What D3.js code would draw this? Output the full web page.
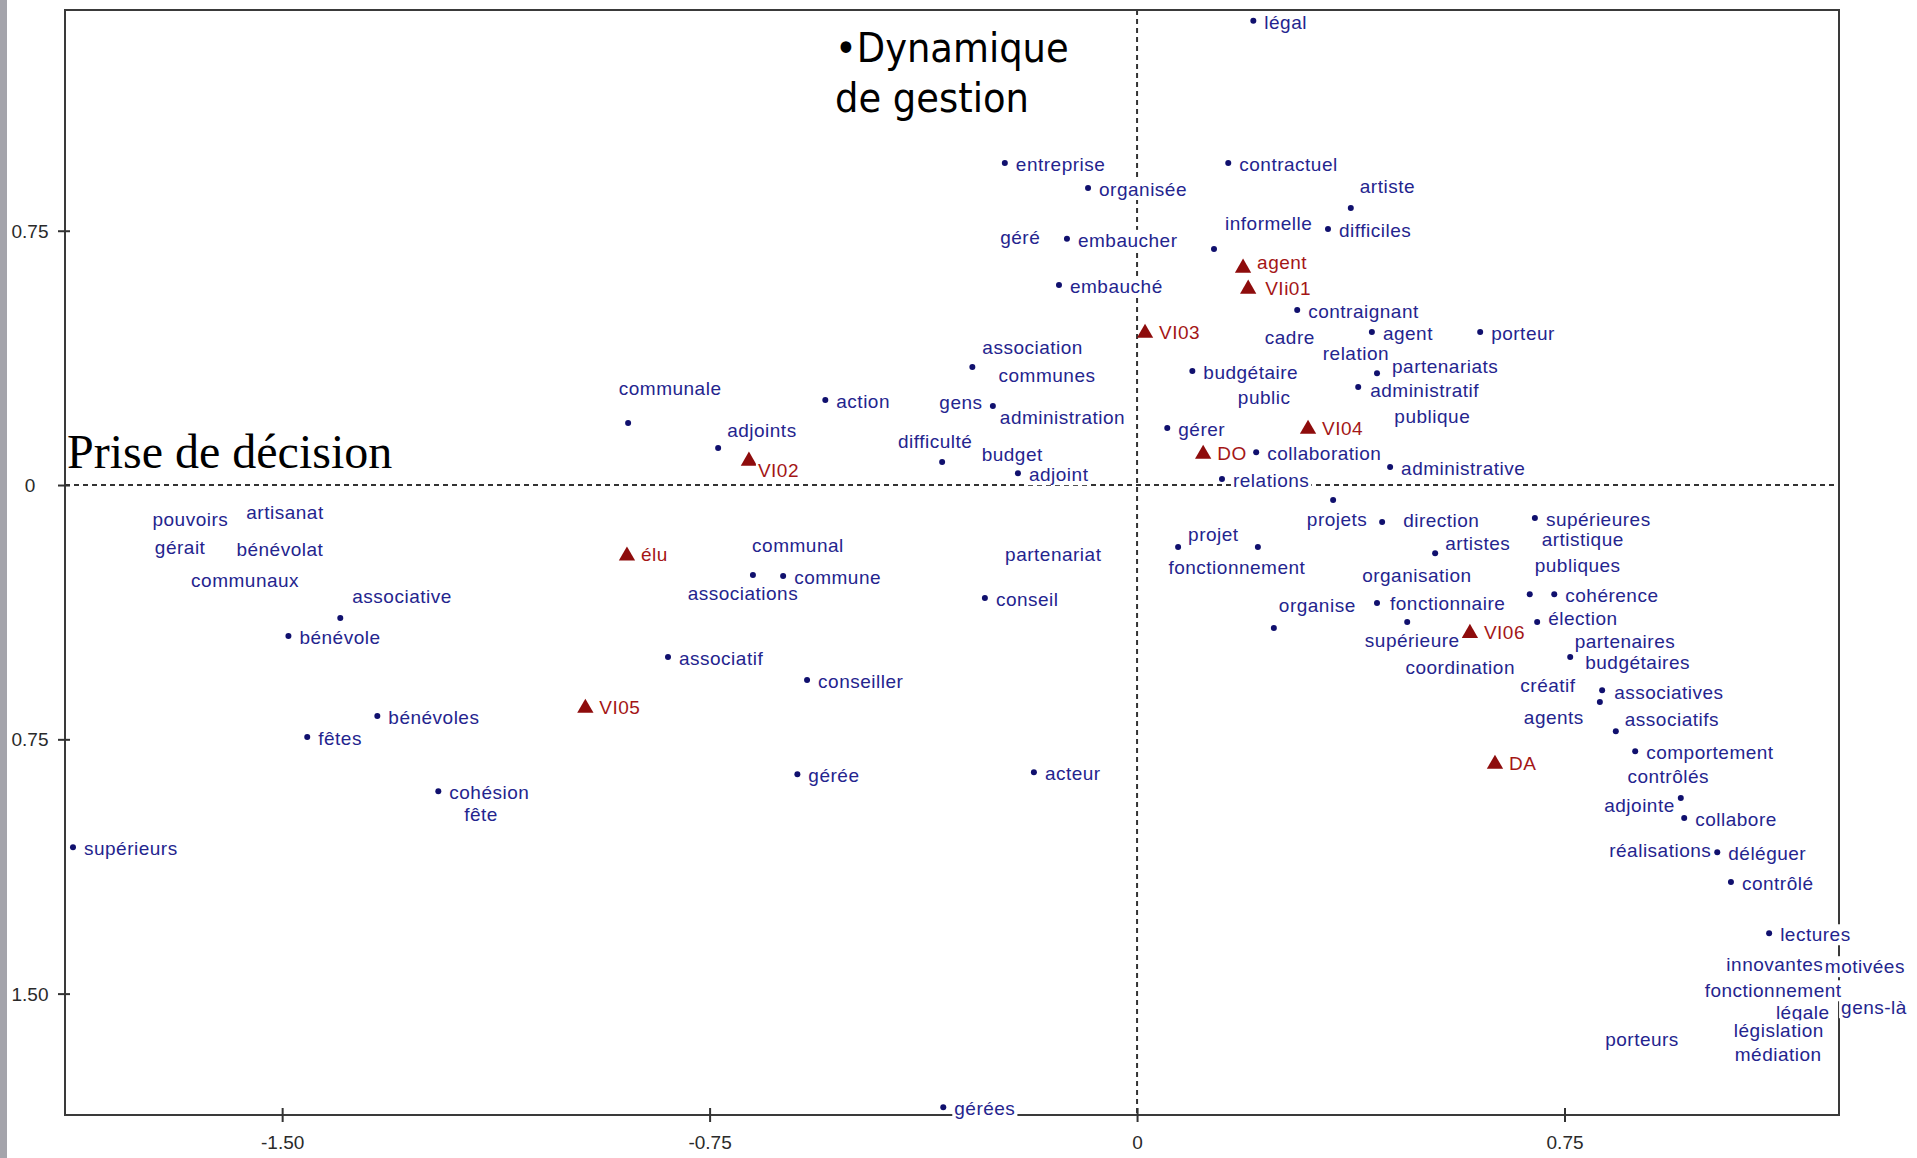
<!DOCTYPE html>
<html><head><meta charset="utf-8">
<script src="https://cdn.jsdelivr.net/npm/d3@7"></script>
<style>body{margin:0;background:#fff;overflow:hidden}svg{display:block}</style>
</head><body><svg id="chart" width="1917" height="1158"></svg>
<script>
// ---------------- DATA ----------------
const wordLabels = ["légal","entreprise","organisée","géré","embaucher","embauché","contractuel","artiste","informelle","difficiles",
 "contraignant","cadre","agent","relation","association","communes","budgétaire","partenariats","porteur","public",
 "administratif","publique","gérer","collaboration","administrative","relations","budget","adjoint","administration","gens",
 "projets","direction","projet","fonctionnement","artistes","organisation","organise","fonctionnaire","supérieure","coordination",
 "partenariat","conseil","acteur","supérieures","artistique","publiques","cohérence","partenaires","élection","budgétaires",
 "créatif","associatives","agents","associatifs","comportement","contrôlés","adjointe","collabore","déléguer","réalisations",
 "contrôlé","lectures","innovantes","motivées","légale","fonctionnement","gens-là","législation","médiation","porteurs",
 "gérées","gérée","conseiller","associatif","associations","commune","communal","difficulté","action","adjoints",
 "communale","pouvoirs","artisanat","gérait","bénévolat","communaux","associative","bénévole","bénévoles","fêtes",
 "cohésion","fête","supérieurs"];
const wordX = [0.204,-0.232,-0.086,-0.205,-0.123,-0.137,0.160,0.375,0.135,0.335,
 0.281,0.268,0.412,0.384,-0.289,-0.158,0.097,0.421,0.602,0.223,
 0.388,0.518,0.053,0.209,0.444,0.149,-0.219,-0.209,-0.253,-0.309,
 0.344,0.430,0.072,0.212,0.523,0.491,0.240,0.421,0.474,0.567,
 -0.147,-0.267,-0.181,0.698,0.782,0.689,0.732,0.856,0.702,0.760,
 0.721,0.816,0.812,0.840,0.874,0.932,0.954,0.960,1.018,0.918,
 1.042,1.109,1.119,1.277,1.168,1.116,1.293,1.126,1.125,0.886,
 -0.340,-0.596,-0.579,-0.823,-0.674,-0.621,-0.595,-0.342,-0.547,-0.735,
 -0.893,-1.661,-1.495,-1.679,-1.504,-1.565,-1.398,-1.489,-1.333,-1.456,
 -1.226,-1.151,-1.867];
const wordY = [1.369,0.950,0.876,0.723,0.726,0.590,0.950,0.817,0.696,0.755,
 0.516,0.428,0.451,0.381,0.348,0.316,0.336,0.330,0.451,0.251,
 0.289,0.195,0.168,0.097,0.053,0.018,0.083,0.035,0.233,0.236,
 -0.044,-0.109,-0.183,-0.183,-0.201,-0.274,-0.422,-0.348,-0.404,-0.546,
 -0.212,-0.333,-0.847,-0.097,-0.168,-0.322,-0.322,-0.468,-0.404,-0.507,
 -0.599,-0.605,-0.640,-0.726,-0.785,-0.867,-0.923,-0.982,-1.083,-1.086,
 -1.171,-1.322,-1.422,-1.428,-1.563,-1.499,-1.549,-1.617,-1.687,-1.643,
 -1.835,-0.853,-0.575,-0.507,-0.265,-0.268,-0.186,0.068,0.251,0.109,
 0.183,-0.109,-0.088,-0.192,-0.198,-0.289,-0.392,-0.445,-0.681,-0.743,
 -0.903,-0.979,-1.068];

const varLabels = ["agent","VIi01","VI03","VI04","DO","VI02","élu","VI05","VI06","DA"];
const varX = [0.186,0.195,0.014,0.300,0.116,-0.681,-0.895,-0.968,0.584,0.628];
const varY = [0.643,0.581,0.451,0.168,0.094,0.074,-0.206,-0.655,-0.434,-0.820];

const xTickValues = [-1.5,-0.75,0,0.75];
const xTickLabels = ["-1.50","-0.75","0","0.75"];
const yTickValues = [0.75,0,-0.75,-1.5];
const yTickLabels = ["0.75","0","0.75","1.50"];
const titleTopLines = ["•Dynamique","de gestion"];
const titleLeft = "Prise de décision";

// ---------------- LAYOUT ----------------
const plot = {left:65, right:1839, top:10, bottom:1115};
const x = d3.scaleLinear().domain([-1.881,1.2316]).range([plot.left,plot.right]);
const y = d3.scaleLinear().domain([1.401,-1.858]).range([plot.top,plot.bottom]);

const BLUE_TXT = "#24248e", BLUE_DOT = "#10106e", RED = "#8e0c0c", RED_TXT = "#a41616";
const FONT = "'Liberation Sans', Arial, sans-serif";

// label placement relative to marker: [dx, dy, anchor]; C = label centred on its point
const C = [0,0,"middle"];
const defaultWordOff = [11,4,"start"];
const defaultVarOff = [14,1,"start"];
const labelOffsets = {
  "géré":C,"cadre":C,"relation":C,"communes":C,"public":C,"publique":C,"budget":C,"gens":C,
  "organisation":C,"coordination":C,"partenariat":C,"artistique":C,"partenaires":C,"créatif":C,
  "contrôlés":C,"réalisations":C,"innovantes":C,"motivées":C,"fonctionnement#2":C,"légale":C,
  "gens-là":C,"législation":C,"médiation":C,"porteurs":C,"communal":C,"pouvoirs":C,"artisanat":C,
  "gérait":C,"bénévolat":C,"communaux":C,"fête":C,
  "artiste":[9,-19,"start"],"informelle":[11,-23,"start"],"association":[10,-17,"start"],
  "partenariats":[15,-4,"start"],"administratif":[12,6,"start"],"administration":[7,14,"start"],
  "projets":[4,22,"middle"],"direction":[21,1,"start"],"projet":[10,-10,"start"],
  "fonctionnement":[-21,23,"middle"],"artistes":[10,-7,"start"],"organise":[5,-20,"start"],
  "fonctionnaire":[13,3,"start"],"supérieure":[5,21,"middle"],"publiques":[5,-26,"start"],
  "élection":[11,-1,"start"],
  "budgétaires":[15,8,"start"],"associatives":[12,5,"start"],"agents":[-46,18,"middle"],
  "associatifs":[9,-9,"start"],"adjointe":[-6,10,"end"],"associations":[-10,21,"middle"],
  "difficulté":[-7,-18,"middle"],"adjoints":[9,-15,"start"],"communale":[42,-32,"middle"],
  "associative":[12,-19,"start"],"agent@var":[14,-4,"start"],"VIi01":[17,1,"start"],
  "VI02":[9,12,"start"]
};
const wordShift = -2.5, varShift = -1;

const svg = d3.select("#chart");
svg.append("rect").attr("width",1917).attr("height",1158).attr("fill","#fff");
svg.append("rect").attr("x",0).attr("y",0).attr("width",7).attr("height",1158).attr("fill","#a4a4ab");

// zero lines (dashed)
svg.append("line").attr("x1",x(0)).attr("x2",x(0)).attr("y1",plot.top).attr("y2",plot.bottom)
  .attr("stroke","#333").attr("stroke-width",2).attr("stroke-dasharray","5,4");
svg.append("line").attr("x1",plot.left).attr("x2",plot.right).attr("y1",y(0)).attr("y2",y(0))
  .attr("stroke","#333").attr("stroke-width",2).attr("stroke-dasharray","5,4");

// frame
svg.append("rect").attr("x",plot.left).attr("y",plot.top)
  .attr("width",plot.right-plot.left).attr("height",plot.bottom-plot.top)
  .attr("fill","none").attr("stroke","#3a3a3a").attr("stroke-width",2);

// axes via d3.axis
const yAxis = d3.axisLeft(y).tickValues(yTickValues).tickSize(0)
  .tickFormat((d,i)=>yTickLabels[i]);
const gy = svg.append("g").attr("transform",`translate(${plot.left},0)`).call(yAxis);
gy.select(".domain").remove();
gy.selectAll(".tick text").attr("x",-35).attr("text-anchor","middle").attr("dy","0.35em")
  .attr("font-family",FONT).attr("font-size",19).attr("fill","#2a2a2a");
gy.selectAll(".tick").append("line").attr("x1",-7).attr("x2",5).attr("stroke","#333").attr("stroke-width",2);

const xAxis = d3.axisBottom(x).tickValues(xTickValues).tickSize(0)
  .tickFormat((d,i)=>xTickLabels[i]);
const gx = svg.append("g").attr("transform",`translate(0,${plot.bottom})`).call(xAxis);
gx.select(".domain").remove();
gx.selectAll(".tick text").attr("y",27).attr("dy","0.35em")
  .attr("font-family",FONT).attr("font-size",19).attr("fill","#2a2a2a");
gx.selectAll(".tick").append("line").attr("y1",-7).attr("y2",7).attr("stroke","#333").attr("stroke-width",2);

// markers
const words = wordLabels.map((l,i)=>({label:l,x:wordX[i],y:wordY[i],kind:"w"}));
const vars = varLabels.map((l,i)=>({label:l,x:varX[i],y:varY[i],kind:"v"}));
const seen = {};
words.forEach(d=>{ seen[d.label]=(seen[d.label]||0)+1; d.key = seen[d.label]>1 ? d.label+"#"+seen[d.label] : d.label; });
vars.forEach(d=>{ d.key = d.label==="agent" ? "agent@var" : d.label; });

svg.append("g").selectAll("circle").data(words).join("circle")
  .attr("cx",d=>x(d.x)).attr("cy",d=>y(d.y)).attr("r",3).attr("fill",BLUE_DOT);
svg.append("g").selectAll("path").data(vars).join("path")
  .attr("d",d3.symbol().type(d3.symbolTriangle).size(115))
  .attr("transform",d=>`translate(${x(d.x)},${y(d.y)+1})`).attr("fill",RED);

// labels with opaque white boxes
const lg = svg.append("g");
function drawLabel(d){
  const off = labelOffsets[d.key] || (d.kind==="w"?defaultWordOff:defaultVarOff);
  const g = lg.append("g");
  const t = g.append("text").text(d.label)
    .attr("x",x(d.x)+off[0]).attr("y",y(d.y)+off[1]+(d.kind==="w"?wordShift:varShift))
    .attr("text-anchor",off[2]).attr("dominant-baseline","central")
    .attr("font-family",FONT).attr("font-size",19).attr("letter-spacing","0.5px")
    .attr("fill",d.kind==="w"?BLUE_TXT:RED_TXT);
  const b = t.node().getBBox();
  g.insert("rect","text").attr("x",b.x-2).attr("y",b.y).attr("width",b.width+4).attr("height",b.height)
    .attr("fill","#fff");
}
words.forEach(drawLabel);
vars.forEach(drawLabel);

// titles
svg.append("text").attr("x",67).attr("y",468).text(titleLeft)
  .attr("font-family","'Liberation Serif','Times New Roman',serif").attr("font-size",48).attr("fill","#000");
const tt = svg.append("text").attr("font-family","'DejaVu Sans Condensed','DejaVu Sans',sans-serif")
  .attr("font-size",41).attr("fill","#000");
titleTopLines.forEach((s,i)=>tt.append("tspan").attr("x",835).attr("y",62+i*50).text(s));
</script></body></html>
